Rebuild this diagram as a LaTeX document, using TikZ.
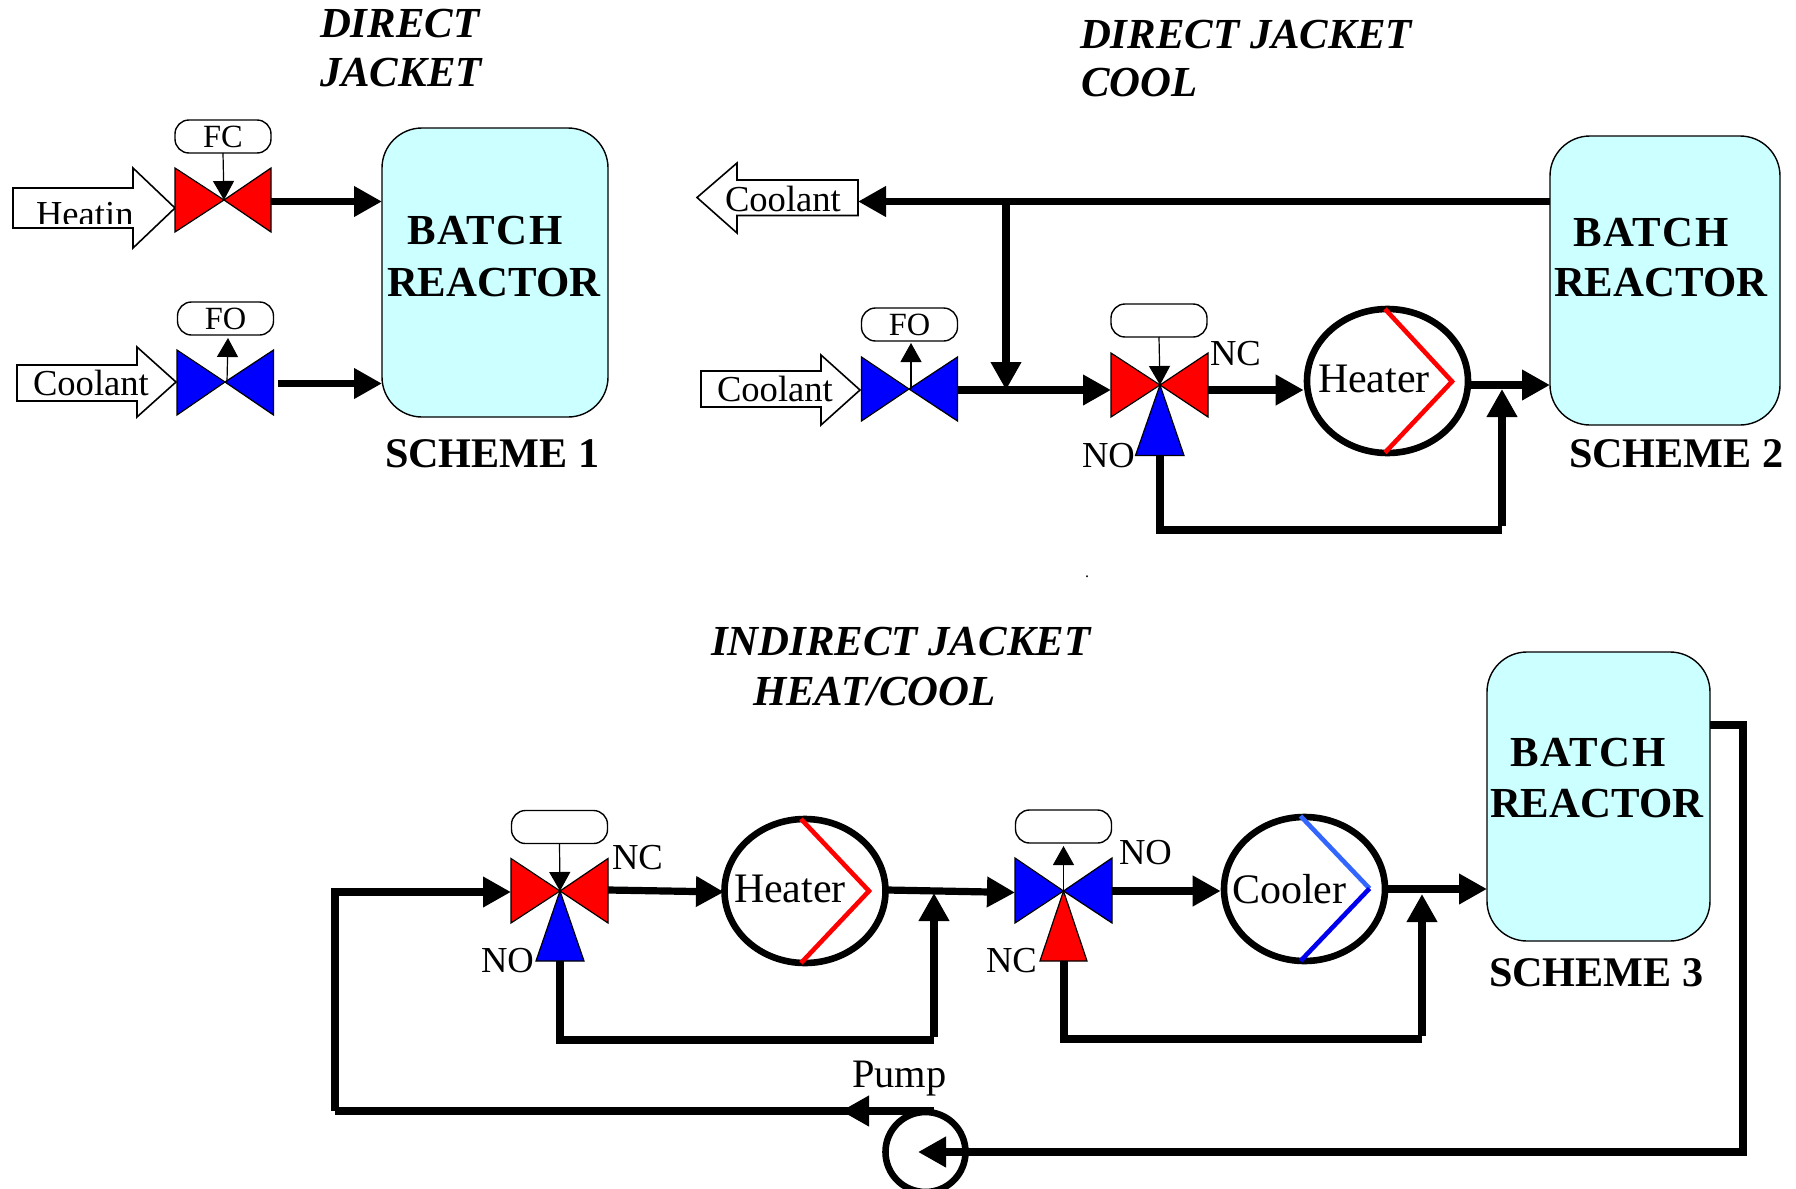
\documentclass[tikz,border=0pt]{standalone}
\usepackage{fontspec}
\setmainfont{Liberation Serif}
\usetikzlibrary{arrows.meta,shapes.geometric}
\definecolor{reactorfill}{HTML}{CCFFFF}
\definecolor{coolhi}{HTML}{3366FF}
\definecolor{coollo}{HTML}{0000EE}
\tikzset{
  txt/.style={anchor=base west,inner sep=0pt,outer sep=0pt,text=black},
  lbl/.style={txt,font=\fontsize{18.3}{20}\selectfont},
  xlbl/.style={txt,font=\fontsize{20.2}{22}\selectfont},
  hxlbl/.style={txt,font=\fontsize{21}{23}\selectfont},
  title/.style={txt,font=\fontsize{21.4}{24}\selectfont\bfseries\itshape},
  brlbl/.style={txt,font=\fontsize{21.4}{24}\selectfont\bfseries},
  batchlbl/.style={txt,font=\fontsize{21.4}{24}\selectfont\bfseries\addfontfeature{LetterSpace=4}},
  schemelbl/.style={txt,font=\fontsize{21.1}{24}\selectfont\bfseries},
  reactor/.style={draw=black,line width=0.7pt,fill=reactorfill,rounded corners=20pt,rectangle,inner sep=0pt,outer sep=0pt,minimum width=113pt,minimum height=144.5pt},
  hx/.style={draw=black,line width=3.3pt,ellipse,inner sep=0pt,minimum width=80.5pt,minimum height=72pt},
  ctl/.style={draw=black,line width=0.7pt,fill=white,rectangle,rounded corners=7pt,inner sep=0pt,outer sep=0pt,minimum width=48pt,minimum height=16.5pt,font=\fontsize{16.2}{18}\selectfont},
  valve/.style={draw=black,line width=0.6pt,line join=miter},
  blockarrow/.style={draw=black,line width=0.8pt,fill=white,line join=miter},
  pipe/.style={draw=black,line width=3.6pt,line join=miter},
  flow/.style={pipe,-{Triangle[length=14pt,width=14.5pt]}},
  sig/.style={draw=black,line width=0.6pt,-{Triangle[length=9.5pt,width=10.5pt]}},
  chev/.style={line width=2.3pt,line join=miter}
}
\begin{document}
\begin{tikzpicture}[x=0.5pt,y=-0.5pt]
\clip (0,0) rectangle (1796,1189);
\useasboundingbox (0,0) rectangle (1796,1189);
\fill[white] (0,0) rectangle (1796,1189);

%--- Scheme 1
\node[title] (t1a) at (320,37) {DIRECT};
\node[title] (t1b) at (320,86) {JACKET};
\node[reactor] (r1) at (495,272.5) {};
\node[batchlbl] (r1a) at (407,244.5) {BATCH};
\node[brlbl] (r1b) at (387,296) {REACTOR};
\node[schemelbl] (s1) at (385,467) {SCHEME 1};

\draw[blockarrow] (13,188) -- (133,188) -- (133,168) -- (175,208) -- (133,248) -- (133,228) -- (13,228) -- cycle;
\begin{scope}
\clip (20,190) rectangle (140,223);
\node[lbl] (heatin) at (36,226.5) {Heatin};
\end{scope}
\coordinate (v1) at (224,200);
\draw[valve,fill=red] (175,168) -- (175,232) -- (v1) -- cycle;
\draw[valve,fill=red] (271,168) -- (271,232) -- (v1) -- cycle;
\node[ctl] (c1) at (223,136.5) {\raisebox{-1pt}{FC}};
\draw[sig] (c1.south) -- (v1);
\coordinate (v1o) at (271,201.5);
\draw[flow] (v1o) -- (r1.west |- v1o);

\draw[blockarrow] (17,365) -- (137,365) -- (137,347) -- (176,382) -- (137,417) -- (137,401) -- (17,401) -- cycle;
\node[lbl] (c1l) at (33,395) {Coolant};
\coordinate (v2) at (225,382);
\draw[valve,fill=blue] (177,350) -- (177,415) -- (v2) -- cycle;
\draw[valve,fill=blue] (273.5,350) -- (273.5,415) -- (v2) -- cycle;
\node[ctl] (c2) at (225.5,318.5) {\raisebox{-1pt}{FO}};
\coordinate (c2t) at (228,338);
\draw[sig] (v2) ++(2,0) -- (c2t);
\coordinate (v2o) at (277.5,383.5);
\draw[flow] (v2o) -- (r1.west |- v2o);

%--- Scheme 2
\node[title] (t2a) at (1080,48) {DIRECT JACKET};
\node[title] (t2b) at (1081,96) {COOL};
\node[reactor,minimum width=115pt] (r2) at (1665,280.5) {};
\node[batchlbl] (r2a) at (1573,246.5) {BATCH};
\node[brlbl] (r2b) at (1554,296.5) {REACTOR};
\node[schemelbl] (s2) at (1569,467) {SCHEME 2};

\draw[blockarrow] (697,197.5) -- (737,163) -- (737,180) -- (858,180) -- (858,215.5) -- (737,215.5) -- (737,233) -- cycle;
\node[lbl] (c3l) at (725,211) {Coolant};
\coordinate (out2) at (858,201.5);
\draw[flow] (r2.west |- out2) -- (out2);

\draw[blockarrow] (701,371) -- (821,371) -- (821,355) -- (860,390) -- (821,425) -- (821,407) -- (701,407) -- cycle;
\node[lbl] (c4l) at (717,401) {Coolant};
\coordinate (v3) at (909,389);
\draw[valve,fill=blue] (861.5,357) -- (861.5,421) -- (v3) -- cycle;
\draw[valve,fill=blue] (957.5,357) -- (957.5,421) -- (v3) -- cycle;
\node[ctl] (c3) at (909.5,324.5) {\raisebox{-1.3pt}{FO}};
\coordinate (c3t) at (911,343);
\draw[sig] (v3) ++(2,0) -- (c3t);

\coordinate (v4) at (1160,385);
\coordinate (v4in) at (1111,390);
\coordinate (v3o) at (957.5,390);
\coordinate (jn2) at (1006,390);
\draw[flow] (v3o) -- (v4in);
\draw[flow] (1006,201.5) -- (jn2);
\draw[valve,fill=red] (1111,353) -- (1111,417) -- (v4) -- cycle;
\draw[valve,fill=red] (1208,353) -- (1208,417) -- (v4) -- cycle;
\draw[valve,fill=blue] (1135.5,455.5) -- (1184,455.5) -- (v4) -- cycle;
\node[ctl] (c4) at (1159,320.5) {};
\draw[sig] (c4.south) -- (v4);
\node[lbl] (nc2) at (1210,365) {NC};
\node[lbl] (no2) at (1082,467) {NO};

\node[hx] (h2) at (1387.5,381) {};
\node[hxlbl] (h2l) at (1318,392.5) {Heater};
\draw[chev,red] (1385,309) -- (1452,381.5) -- (1385,452.6);
\coordinate (v4o) at (1208,390);
\draw[flow] (v4o) -- (h2.west |- v4o);
\coordinate (h2o) at (1471,385);
\draw[flow] (h2o) -- (r2.west |- h2o);
\coordinate (lp2a) at (1160,455.5);
\coordinate (lp2b) at (1502,530);
\coordinate (lp2c) at (1502,389);
\draw[pipe] (lp2a) |- (lp2b);
\draw[flow] (1502,526) -- (lp2c);
\node[txt,font=\fontsize{8}{9}\selectfont] (dot) at (1085,577) {.};

%--- Scheme 3
\node[title] (t3a) at (711,655.5) {INDIRECT JACKET};
\node[title] (t3b) at (753,705.5) {HEAT/COOL};
\node[reactor,minimum width=111.5pt] (r3) at (1598.5,796.5) {};
\node[batchlbl] (r3a) at (1510,766.5) {BATCH};
\node[brlbl] (r3b) at (1490,817) {REACTOR};
\node[schemelbl] (s3) at (1489,986.5) {SCHEME 3};

\coordinate (va) at (560,891);
\coordinate (vain) at (511,892);
\node[ctl] (ca) at (559.5,827) {};
\node[hx] (ha) at (805,891) {};
\node[hxlbl] (hal) at (734,902.5) {Heater};
\draw[chev,red] (801,819) -- (869,891) -- (801,963);
\coordinate (vao) at (608,890);
\coordinate (vaoh) at (724,892);
\draw[flow] (vao) -- (vaoh);
\coordinate (vb) at (1063.5,891);
\coordinate (vbin) at (1015,892.5);
\coordinate (hao) at (887,890);
\draw[flow] (hao) -- (vbin);
\draw[valve,fill=red] (511,858.5) -- (511,923) -- (va) -- cycle;
\draw[valve,fill=red] (608,858.5) -- (608,923) -- (va) -- cycle;
\draw[valve,fill=blue] (536,961) -- (584,961) -- (va) -- cycle;
\draw[sig] (ca.south) -- (va);
\node[lbl] (nca) at (612,869) {NC};
\node[lbl] (noa) at (481,972) {NO};

\draw[valve,fill=blue] (1015,858) -- (1015,923) -- (vb) -- cycle;
\draw[valve,fill=blue] (1112,858) -- (1112,923) -- (vb) -- cycle;
\draw[valve,fill=red] (1040,961) -- (1087,961) -- (vb) -- cycle;
\node[ctl] (cb) at (1063.5,826.5) {};
\coordinate (cbt) at (1063.5,846);
\draw[sig] (vb) -- (cbt);
\node[lbl] (nob) at (1119,864) {NO};
\node[lbl] (ncb) at (986,972) {NC};

\node[hx] (hb) at (1304.5,889) {};
\node[hxlbl] (hbl) at (1232,903) {Cooler};
\draw[chev,coolhi] (1300.5,816) -- (1369.5,888.5);
\draw[chev,coollo] (1369.5,888.5) -- (1300.5,961);
\coordinate (vbo) at (1112,891);
\draw[flow] (vbo) -- (hb.west |- vbo);
\coordinate (hbo) at (1387,889);
\draw[flow] (hbo) -- (r3.west |- hbo);

\coordinate (lpa1) at (560,961);
\coordinate (lpa2) at (934,1040);
\coordinate (lpa3) at (934,893);
\draw[pipe] (lpa1) |- (lpa2);
\draw[flow] (934,1037) -- (lpa3);
\coordinate (lpb1) at (1064,961);
\coordinate (lpb2) at (1422,1039);
\coordinate (lpb3) at (1422,894);
\draw[pipe] (lpb1) |- (lpb2);
\draw[flow] (1422,1036) -- (lpb3);

\node[ellipse,draw=black,line width=3.3pt,inner sep=0pt,minimum width=40pt,minimum height=40pt] (pump) at (925.5,1152) {};
\node[xlbl] (pl) at (852,1087) {Pump};
\coordinate (ptl) at (841,1111);
\coordinate (pt0) at (934,1111);
\draw[flow] (pt0) -- (ptl);
\coordinate (fr1) at (335,1111);
\draw[pipe] (850,1111) -- (fr1);
\draw[flow] (fr1) -- (335,892) -- (vain);
\coordinate (rout) at (1710,725);
\coordinate (fr2) at (1743,725);
\coordinate (fr3) at (1743,1152);
\coordinate (ptip) at (918,1152);
\draw[flow] (r3.east |- rout) -- (fr2) -- (fr3) -- (ptip);
\end{tikzpicture}
\end{document}
